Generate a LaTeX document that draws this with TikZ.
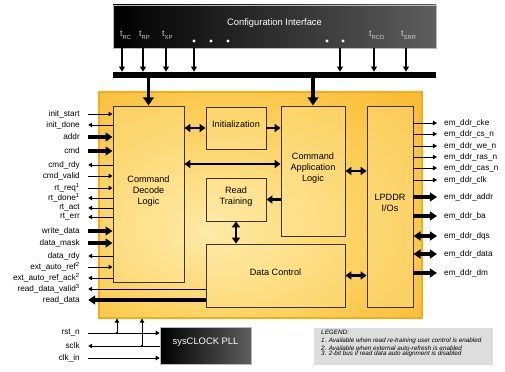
\documentclass[tikz,border=0pt]{standalone}
\usepackage{fontspec}
\setmainfont{Liberation Sans}
\usetikzlibrary{arrows.meta,fit}
\definecolor{coredark}{HTML}{F8B424}
\definecolor{coremid}{HTML}{FCCF58}
\definecolor{corelight}{HTML}{FEEBA8}
\definecolor{coreedge}{HTML}{F5AC1C}
\definecolor{blockline}{HTML}{3B3320}
\definecolor{cfggray}{HTML}{5E5E5E}
\definecolor{paramgray}{HTML}{CFCFCF}
\definecolor{legendgray}{HTML}{DDDDDD}
\pgfdeclareradialshading{coreglow}{\pgfpoint{-8bp}{-6bp}}{color(0bp)=(corelight);color(24bp)=(coremid);color(44bp)=(coredark);color(75bp)=(coredark)}
\newcommand{\tparam}[1]{t\raisebox{-2.4pt}{\fontsize{5}{5}\selectfont #1}}

\begin{document}
\begin{tikzpicture}[x=0.03cm,y=-0.03cm,font=\fontsize{7}{8}\selectfont,
  block/.style={draw=blockline,line width=.8pt,fill=corelight,fill opacity=.3,text opacity=1,inner sep=0pt,align=center,font=\fontsize{7.8}{9.4}\selectfont},
  darkbox/.style={draw=gray!55,line width=.6pt,left color=black,right color=cfggray,inner sep=0pt,text=white,font=\fontsize{8}{9}\selectfont},
  param/.style={anchor=base west,inner sep=0pt,text=paramgray,font=\fontsize{7.5}{8}\selectfont},
  sigleft/.style={anchor=east,inner sep=0pt},
  sigright/.style={anchor=west,inner sep=0pt},
  wire/.style={line width=.8pt,-{Triangle[length=3.4pt,width=3.8pt]}},
  thickwire/.style={line width=2.8pt,-{Triangle[length=6pt,width=7.6pt]}},
  dblwire/.style={line width=2.8pt,{Triangle[length=6pt,width=7.6pt]}-{Triangle[length=6pt,width=7.6pt]}},
  link/.style={line width=2.4pt,-{Triangle[length=5pt,width=6.8pt]}},
  dbllink/.style={line width=2.4pt,{Triangle[length=5pt,width=6.8pt]}-{Triangle[length=5pt,width=6.8pt]}},
  tapline/.style={line width=1.6pt,-{Triangle[length=4.4pt,width=5pt]}},
  feed/.style={line width=3.2pt,-{Triangle[length=7pt,width=9pt]}}]
  \useasboundingbox (0,0) rectangle (505,372);
  % main blocks
  \node[fit={(99,92) (422,318)},inner sep=0pt,draw=coreedge,line width=1pt,shading=coreglow] (core) {};
  \node[darkbox,fit={(113,5) (436,48)}] (cfg) {Configuration Interface};
  \node[fit={(113,72) (436,78)},inner sep=0pt,fill=black] (bus) {};
  \node[block,fit={(113,106) (184,282)}] (cdl) {Command\\Decode\\Logic};
  \node[block,fit={(206,107) (266,149)}] (init) {Initialization};
  \node[block,fit={(281,106) (345,236)}] (cal) {Command\\Application\\Logic};
  \node[block,fit={(206,178) (266,221)}] (rt) {Read\\Training};
  \node[block,fit={(206,244) (345,307)}] (dc) {Data Control};
  \node[block,fit={(367,106) (413,307)}] (lpddr) {LPDDR\\I/Os};
  \node[darkbox,fit={(160,327) (251,364)}] (pll) {sysCLOCK PLL};
  \node[fit={(314,328) (493,365)},inner sep=0pt,fill=legendgray] (legend) {};
  \node[anchor=north west,inner sep=0pt,align=left,font=\fontsize{5.4}{4.6}\selectfont\itshape] (legendtext) at (321,330) {LEGEND:\\[2.5pt]1. Available when read re-training user control is enabled\\2. Available when external auto-refresh is enabled\\3. 2-bit bus if read data auto alignment is disabled};
  % configuration parameters
  \node[param] (tRC) at (120,37) {\tparam{RC}};
  \node[param] (tRP) at (139,37) {\tparam{RP}};
  \node[param] (tXP) at (162,37) {\tparam{XP}};
  \node[param] (tRCD) at (369,37) {\tparam{RCD}};
  \node[param] (tSRR) at (401,37) {\tparam{SRR}};
  \fill[white] (194,41) circle (1.3pt) (211,41) circle (1.3pt) (228,41) circle (1.3pt) (327,41) circle (1.3pt) (343,41) circle (1.3pt);
  \coordinate (tapRC) at (122,48);
  \coordinate (tapRP) at (143,48);
  \coordinate (tapXP) at (166,48);
  \coordinate (tapA) at (194,48);
  \coordinate (tapB) at (340,48);
  \coordinate (tapRCD) at (374,48);
  \coordinate (tapSRR) at (406,48);
  \draw[tapline] (tapRC) -- (tapRC |- bus.north);
  \draw[tapline] (tapRP) -- (tapRP |- bus.north);
  \draw[tapline] (tapXP) -- (tapXP |- bus.north);
  \draw[tapline] (tapA) -- (tapA |- bus.north);
  \draw[tapline] (tapB) -- (tapB |- bus.north);
  \draw[tapline] (tapRCD) -- (tapRCD |- bus.north);
  \draw[tapline] (tapSRR) -- (tapSRR |- bus.north);
  \draw[feed] (bus.south -| cdl.north) -- (cdl.north);
  \draw[feed] (bus.south -| cal.north) -- (cal.north);
  % internal paths
  \coordinate (ctlpath) at (232,164);
  \draw[dbllink] (cdl.east |- init) -- (init.west);
  \draw[link] (init.east) -- (cal.west |- init);
  \draw[dbllink] (cdl.east |- ctlpath) -- (cal.west |- ctlpath);
  \draw[link] (cal.west |- rt) -- (rt.east);
  \draw[dbllink] (rt.south) -- (rt.south |- dc.north);
  \draw[dbllink] (cal.east) -- (lpddr.west |- cal);
  \draw[dbllink] (dc.east) -- (lpddr.west |- dc);
  % user side signals
  \node[sigleft] (initstart) at (80,114) {init\_start};
  \draw[wire] ([xshift=7pt]initstart.east) -- (cdl.west |- initstart);
  \node[sigleft] (initdone) at (80,125) {init\_done};
  \draw[wire] (cdl.west |- initdone) -- ([xshift=7pt]initdone.east);
  \node[sigleft] (addr) at (80,137) {addr};
  \draw[thickwire] ([xshift=7pt]addr.east) -- (cdl.west |- addr);
  \node[sigleft] (cmd) at (80,151) {cmd};
  \draw[thickwire] ([xshift=7pt]cmd.east) -- (cdl.west |- cmd);
  \node[sigleft] (cmdrdy) at (80,165) {cmd\_rdy};
  \draw[wire] (cdl.west |- cmdrdy) -- ([xshift=7pt]cmdrdy.east);
  \node[sigleft] (cmdvalid) at (80,176) {cmd\_valid};
  \draw[wire] ([xshift=7pt]cmdvalid.east) -- (cdl.west |- cmdvalid);
  \node[sigleft] (rtreq) at (80,188) {rt\_req\textsuperscript{1}};
  \draw[wire] ([xshift=7pt]rtreq.east) -- (cdl.west |- rtreq);
  \node[sigleft] (rtdone) at (80,198) {rt\_done\textsuperscript{1}};
  \draw[wire] (cdl.west |- rtdone) -- ([xshift=7pt]rtdone.east);
  \node[sigleft] (rtact) at (80,208) {rt\_act};
  \draw[wire] (cdl.west |- rtact) -- ([xshift=7pt]rtact.east);
  \node[sigleft] (rterr) at (80,217) {rt\_err};
  \draw[wire] (cdl.west |- rterr) -- ([xshift=7pt]rterr.east);
  \node[sigleft] (wrdata) at (80,231) {write\_data};
  \draw[thickwire] ([xshift=7pt]wrdata.east) -- (cdl.west |- wrdata);
  \node[sigleft] (dmask) at (80,243) {data\_mask};
  \draw[thickwire] ([xshift=7pt]dmask.east) -- (cdl.west |- dmask);
  \node[sigleft] (drdy) at (80,256) {data\_rdy};
  \draw[wire] (cdl.west |- drdy) -- ([xshift=7pt]drdy.east);
  \node[sigleft] (extref) at (80,267) {ext\_auto\_ref\textsuperscript{2}};
  \draw[wire] ([xshift=7pt]extref.east) -- (cdl.west |- extref);
  \node[sigleft] (extack) at (80,278) {ext\_auto\_ref\_ack\textsuperscript{2}};
  \draw[wire] (cdl.west |- extack) -- ([xshift=7pt]extack.east);
  \node[sigleft] (rdvalid) at (80,289) {read\_data\_valid\textsuperscript{3}};
  \draw[wire] (dc.west |- rdvalid) -- ([xshift=7pt]rdvalid.east);
  \node[sigleft] (rddata) at (80,300) {read\_data};
  \draw[thickwire] (dc.west |- rddata) -- ([xshift=7pt]rddata.east);
  % memory side signals
  \node[sigright] (cke) at (444,123) {em\_ddr\_cke};
  \draw[wire] (lpddr.east |- cke) -- ([xshift=-6pt]cke.west);
  \node[sigright] (csn) at (444,134) {em\_ddr\_cs\_n};
  \draw[wire] (lpddr.east |- csn) -- ([xshift=-6pt]csn.west);
  \node[sigright] (wen) at (444,146) {em\_ddr\_we\_n};
  \draw[wire] (lpddr.east |- wen) -- ([xshift=-6pt]wen.west);
  \node[sigright] (rasn) at (444,157) {em\_ddr\_ras\_n};
  \draw[wire] (lpddr.east |- rasn) -- ([xshift=-6pt]rasn.west);
  \node[sigright] (casn) at (444,168) {em\_ddr\_cas\_n};
  \draw[wire] (lpddr.east |- casn) -- ([xshift=-6pt]casn.west);
  \node[sigright] (ddrclk) at (444,180) {em\_ddr\_clk};
  \draw[wire] (lpddr.east |- ddrclk) -- ([xshift=-6pt]ddrclk.west);
  \node[sigright] (ddraddr) at (444,197) {em\_ddr\_addr};
  \draw[thickwire] (lpddr.east |- ddraddr) -- ([xshift=-6pt]ddraddr.west);
  \node[sigright] (ddrba) at (444,216) {em\_ddr\_ba};
  \draw[thickwire] (lpddr.east |- ddrba) -- ([xshift=-6pt]ddrba.west);
  \node[sigright] (ddrdqs) at (444,236) {em\_ddr\_dqs};
  \draw[dblwire] (lpddr.east |- ddrdqs) -- ([xshift=-6pt]ddrdqs.west);
  \node[sigright] (ddrdata) at (444,254) {em\_ddr\_data};
  \draw[dblwire] (lpddr.east |- ddrdata) -- ([xshift=-6pt]ddrdata.west);
  \node[sigright] (ddrdm) at (444,273) {em\_ddr\_dm};
  \draw[thickwire] (lpddr.east |- ddrdm) -- ([xshift=-6pt]ddrdm.west);
  % clocking
  \node[sigleft] (rstn) at (80,333) {rst\_n};
  \draw[wire] ([xshift=7pt]rstn.east) -- (pll.west |- rstn);
  \node[sigleft] (sclk) at (80,346) {sclk};
  \draw[wire] (pll.west |- sclk) -- ([xshift=7pt]sclk.east);
  \node[sigleft] (clkin) at (80,358) {clk\_in};
  \draw[wire] ([xshift=7pt]clkin.east) -- (pll.west |- clkin);
  \coordinate (rsttap) at (117,333);
  \coordinate (sclktap) at (142,346);
  \draw[wire] (rsttap) -- (rsttap |- core.south);
  \draw[wire] (sclktap) -- (sclktap |- core.south);
  \fill (rsttap) circle (1.1pt) (sclktap) circle (1.1pt);
\end{tikzpicture}
\end{document}
